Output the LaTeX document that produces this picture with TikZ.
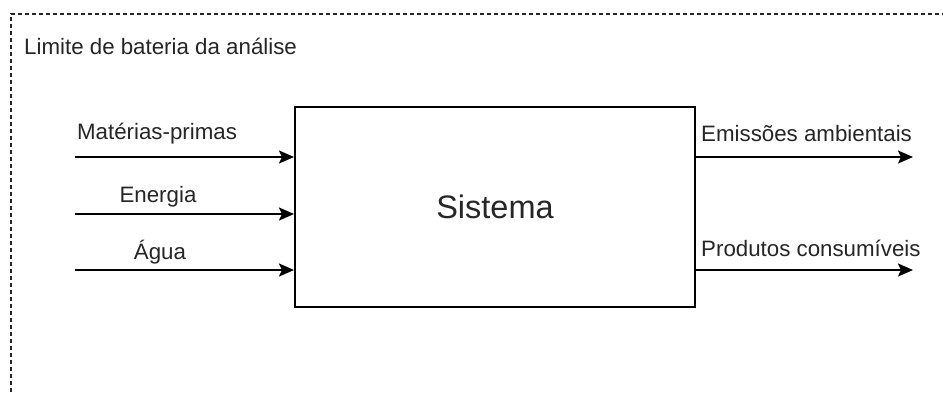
\documentclass[tikz,border=0pt]{standalone}
\usepackage{fontspec}
\setmainfont{Liberation Sans}
\usetikzlibrary{arrows.meta}
\begin{document}
\begin{tikzpicture}[x=1pt,y=-1pt,
  lbl/.style={font=\fontsize{22.3}{26}\selectfont, text=black!85, inner sep=0pt},
  flow/.style={line width=2pt, -{Stealth[length=15pt,width=13pt,inset=3pt]}},
  border/.style={line width=1.3pt, dash pattern=on 4pt off 3pt, draw=black!85}]
\useasboundingbox (0,0) rectangle (943,392);
\fill[white] (0,0) rectangle (943,392);
\coordinate (bl) at (11,392);
\coordinate (bc) at (11,14);
\coordinate (br) at (943,14);
\draw[border] (bl) -- (bc) -- (br);
\node[lbl, anchor=west] (lim) at (24,46) {Limite de bateria da análise};
\node[draw, line width=1.9pt, minimum width=400pt, minimum height=200pt, anchor=north west,
      font=\fontsize{32.5}{38}\selectfont, text=black!85] (sys) at (294,106) {Sistema};
\coordinate (i1) at (75,157);
\coordinate (i2) at (75,214);
\coordinate (i3) at (75,270);
\draw[flow] (i1) -- (i1 -| sys.west);
\draw[flow] (i2) -- (i2 -| sys.west);
\draw[flow] (i3) -- (i3 -| sys.west);
\node[lbl] (l1) at (157,134) {Matérias-primas};
\node[lbl] (l2) at (158,197) {Energia};
\node[lbl] (l3) at (160,252) {Água};
\coordinate (o1) at (913,157);
\coordinate (o2) at (913,270);
\draw[flow] (o1 -| sys.east) -- (o1);
\draw[flow] (o2 -| sys.east) -- (o2);
\node[lbl, anchor=west] (r1) at (701,134) {Emissões ambientais};
\node[lbl, anchor=west] (r2) at (701,248) {Produtos consumíveis};
\end{tikzpicture}
\end{document}
